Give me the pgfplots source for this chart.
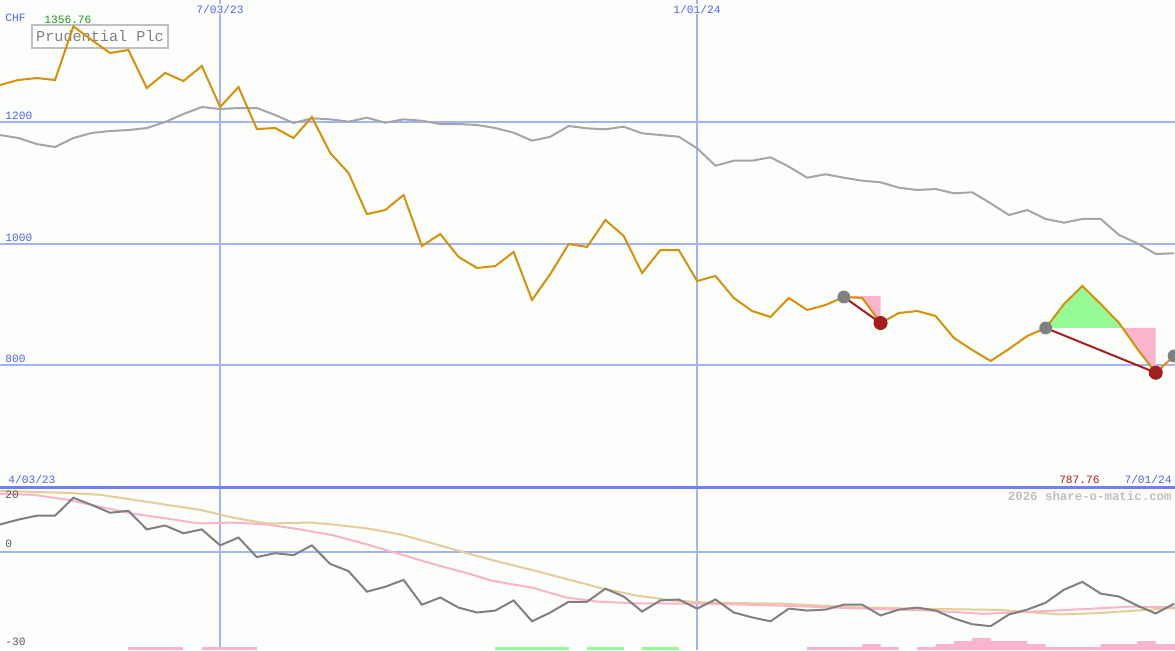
\documentclass[border=0pt]{standalone}
\usepackage{pgfplots}
\pgfplotsset{compat=1.18}
\usepackage{fontspec}
\setmainfont{Liberation Mono}
\definecolor{bg}{RGB}{252,254,252}
\definecolor{priceor}{RGB}{212,145,10}
\definecolor{magray}{RGB}{165,165,165}
\definecolor{momgray}{RGB}{128,128,128}
\definecolor{lpink}{RGB}{250,180,200}
\definecolor{ltan}{RGB}{228,205,155}
\definecolor{gfill}{RGB}{150,250,150}
\definecolor{pfill}{RGB}{250,180,205}
\definecolor{gridblue}{RGB}{165,180,240}
\definecolor{sepblue}{RGB}{112,128,240}
\definecolor{txtblue}{RGB}{80,96,245}
\definecolor{dred}{RGB}{165,30,30}
\definecolor{dotgray}{RGB}{128,128,128}
\definecolor{pgreen}{RGB}{30,150,30}
\newcommand{\sm}{\fontsize{5.6}{6}\selectfont}
\pgfplotsset{panel/.style={scale only axis, width=587.5pt, xmin=-12, xmax=52.05,
  axis line style={draw=none}, tick style={draw=none},
  xtick={0,26}, xticklabels={,,}, yticklabels={,,,,},
  xmajorgrids, ymajorgrids, grid style={gridblue, line width=1pt}, clip=true}}
\begin{document}
\begin{tikzpicture}
\fill[bg] (0pt,0pt) rectangle (587.5pt,325pt);
\node[anchor=center, draw=black!25, line width=1pt, inner sep=0pt, minimum width=68pt, minimum height=11.5pt, text=black!50, font=\fontsize{7.6}{8}\selectfont] at (50pt,306.75pt) {Prudential Plc};
% ---------------- lower panel ----------------
\begin{axis}[panel, name=lower, at={(0pt,0pt)}, anchor=south west,
  height=81.5pt, ymin=-30, ymax=20, ytick={0}]
\addplot[fill=pfill, draw=none] coordinates {(-5,-30)(-5,-29.1)(-2,-29.1)(-2,-30)} -- cycle;
\addplot[fill=pfill, draw=none] coordinates {(-1,-30)(-1,-29.1)(2,-29.1)(2,-30)} -- cycle;
\addplot[fill=gfill, draw=none] coordinates {(15,-30)(15,-29.1)(19,-29.1)(19,-30)} -- cycle;
\addplot[fill=gfill, draw=none] coordinates {(20,-30)(20,-29.1)(22,-29.1)(22,-30)} -- cycle;
\addplot[fill=gfill, draw=none] coordinates {(23,-30)(23,-29.1)(25,-29.1)(25,-30)} -- cycle;
\addplot[fill=pfill, draw=none] coordinates {(32,-30)(32,-29.1)(35,-29.1)(35,-28.2)(36,-28.2)(36,-29.1)(37,-29.1)(37,-30)} -- cycle;
\addplot[fill=pfill, draw=none] coordinates {(38,-30)(38,-29.1)(39,-29.1)(39,-28.2)(40,-28.2)(40,-27.3)(41,-27.3)(41,-26.3)(42,-26.3)(42,-27.3)(44,-27.3)(44,-28.2)(45,-28.2)(45,-29.1)(48,-29.1)(48,-28.2)(50,-28.2)(50,-27.3)(51,-27.3)(51,-28.2)(52.2,-28.2)(52.2,-30)} -- cycle;
% tan line
\addplot[ltan, line width=1pt] coordinates {
(-12,18.8)(-8.32,18.2)(-6.53,17.6)(-4.73,16.1)(-2.88,14.5)(-1.09,13.0)(0.71,10.6)(2.56,8.8)(4.9,9.1)(6.15,8.5)(8.0,7.3)(9.79,5.5)(11.59,2.7)(13.44,-0.3)(15.23,-3.0)(17.03,-5.5)(18.88,-8.2)(20.67,-10.9)(22.69,-13.3)(24.65,-14.8)(26.66,-15.5)(30.63,-15.8)(34.66,-16.9)(38.63,-17.4)(42.44,-17.7)(44.07,-18.4)(45.81,-19.1)(47.88,-18.7)(49.89,-17.9)(52.1,-17.1)};
% pink line
\addplot[lpink, line width=1pt] coordinates {
(-12,17.9)(-10.17,17.6)(-8.32,16.1)(-6.53,13.9)(-4.73,11.8)(-2.88,10.3)(-1.09,8.8)(0.71,9.1)(2.56,8.5)(4.35,7.0)(6.15,5.2)(8.0,2.4)(9.79,-0.6)(11.59,-3.6)(13.44,-6.4)(14.85,-8.8)(17.03,-10.9)(18.88,-13.9)(20.67,-15.2)(22.69,-15.7)(26.66,-15.8)(30.63,-16.4)(34.66,-17.2)(38.63,-17.9)(41.62,-18.9)(43.63,-18.4)(46.63,-17.6)(49.62,-16.7)(52.1,-16.9)};
% momentum line
\addplot[momgray, line width=1pt] coordinates {
(-12,8.5)(-11,10.0)(-10,11.2)(-9,11.2)(-8,16.7)(-7,14.5)(-6,12.1)(-5,12.7)(-4,7.0)(-3,8.2)(-2,5.8)(-1,7.0)(0,2.1)(1,4.5)(2,-1.5)(3,-0.3)(4,-0.9)(5,2.1)(6,-3.6)(7,-5.8)(8,-12.1)(9,-10.6)(10,-8.5)(11,-16.1)(12,-13.9)(13,-17.0)(14,-18.5)(15,-17.9)(16,-14.8)(17,-21.2)(18,-18.5)(19,-15.2)(20,-15.2)(21,-11.2)(22,-13.6)(23,-18.2)(24,-14.8)(25,-14.5)(26,-17.3)(27,-14.5)(28,-18.5)(29,-20.0)(30,-21.2)(31,-17.3)(32,-17.9)(33,-17.6)(34,-16.1)(35,-16.1)(36,-19.4)(37,-17.6)(38,-17.0)(39,-17.9)(40,-20.3)(41,-22.1)(42,-22.7)(43,-19.1)(44,-17.6)(45,-15.5)(46,-11.5)(47,-9.1)(48,-12.7)(49,-13.6)(50,-16.4)(51,-18.8)(52,-15.8)};
\end{axis}
% ---------------- upper panel ----------------
\begin{axis}[panel, name=upper, at={(0pt,81.5pt)}, anchor=south west,
  height=243.5pt, ymin=600, ymax=1400, ytick={800,1000,1200}]
\addplot[fill=pfill, draw=none] coordinates {(34,913.7)(36,913.7)(36,869.4)(35,910.5)} -- cycle;
\addplot[fill=gfill, draw=none] coordinates {(45,861.2)(46,900.6)(47,930.2)(48,900.6)(49,869.4)(49.19,861.2)} -- cycle;
\addplot[fill=pfill, draw=none] coordinates {(49.19,861.2)(51,861.2)(51,787.76)(50,826.7)} -- cycle;
% moving average
\addplot[magray, line width=1pt] coordinates {
(-12,1178.2)(-11,1173.3)(-10,1163.4)(-9,1158.5)(-8,1173.3)(-7,1181.5)(-6,1184.8)(-5,1186.4)(-4,1189.7)(-3,1199.6)(-2,1212.7)(-1,1224.2)(0,1220.9)(1,1222.6)(2,1222.6)(3,1211.1)(4,1197.9)(5,1205.7)(6,1204.0)(7,1200.1)(8,1206.7)(9,1198.4)(10,1204.0)(11,1201.7)(12,1196.3)(13,1196.3)(14,1194.7)(15,1189.7)(16,1182.0)(17,1168.9)(18,1175.4)(19,1193.0)(20,1189.2)(21,1187.6)(22,1191.9)(23,1181.0)(24,1178.2)(25,1175.4)(26,1156.4)(27,1127.8)(28,1136.0)(29,1136.0)(30,1141.6)(31,1126.2)(32,1108.1)(33,1113.7)(34,1108.1)(35,1103.2)(36,1100.5)(37,1091.7)(38,1087.9)(39,1089.5)(40,1082.5)(41,1084.1)(42,1066.0)(43,1046.8)(44,1055.0)(45,1040.3)(46,1034.2)(47,1040.3)(48,1040.3)(49,1013.9)(50,1000.3)(51,982.8)(52,983.9)};
% price
\addplot[priceor, line width=1pt] coordinates {
(-12,1260.4)(-11,1268.6)(-10,1271.9)(-9,1268.6)(-8,1356.76)(-7,1334.3)(-6,1312.9)(-5,1317.9)(-4,1255.4)(-3,1280.1)(-2,1266.9)(-1,1291.6)(0,1224.2)(1,1257.1)(2,1188.1)(3,1189.7)(4,1173.3)(5,1207.8)(6,1148.7)(7,1115.8)(8,1048.3)(9,1055.0)(10,1079.7)(11,995.9)(12,1015.6)(13,977.8)(14,959.8)(15,963.0)(16,986.0)(17,907.2)(18,949.9)(19,999.2)(20,994.3)(21,1038.6)(22,1012.3)(23,951.5)(24,989.3)(25,989.3)(26,938.4)(27,946.6)(28,910.5)(29,889.1)(30,879.3)(31,910.5)(32,890.8)(33,899.0)(34,912.1)(35,910.5)(36,869.4)(37,885.8)(38,889.1)(39,880.9)(40,844.8)(41,825.1)(42,807.0)(43,826.7)(44,848.1)(45,861.2)(46,900.6)(47,930.2)(48,900.6)(49,869.4)(50,826.7)(51,787.76)(52,815.2)};
% trade lines
\addplot[dred, line width=1pt] coordinates {(34,912.1)(36,869.4)};
\addplot[dred, line width=1pt] coordinates {(45,861.2)(51,787.76)};
\addplot[only marks, mark=*, mark size=3pt, dotgray, mark options={draw=dotgray, fill=dotgray}] coordinates {(34,912.1)(45,861.2)(52,815.2)};
\addplot[only marks, mark=*, mark size=3.3pt, dred, mark options={draw=dred, fill=dred}] coordinates {(36,869.4)(51,787.76)};
\end{axis}
% separator
\draw[sepblue, line width=1.5pt] (0pt,81.5pt) -- (587.5pt,81.5pt);
% labels
\node[anchor=west, inner sep=0pt, text=txtblue, font=\sm] at (2.5pt,316pt) {CHF};
\node[anchor=west, inner sep=0pt, text=pgreen, font=\sm] at (22pt,315pt) {1356.76};
\node[anchor=center, inner sep=0.5pt, fill=bg, text=txtblue, font=\sm] at (110pt,320.5pt) {7/03/23};
\node[anchor=center, inner sep=0.5pt, fill=bg, text=txtblue, font=\sm] at (348.5pt,320.5pt) {1/01/24};
\node[anchor=south west, inner sep=0pt, text=txtblue, font=\sm] at (2.5pt,265.2pt) {1200};
\node[anchor=south west, inner sep=0pt, text=txtblue, font=\sm] at (2.5pt,204.2pt) {1000};
\node[anchor=south west, inner sep=0pt, text=txtblue, font=\sm] at (2.5pt,143.7pt) {800};
\node[anchor=south west, inner sep=0pt, text=txtblue, font=\sm] at (4pt,83pt) {4/03/23};
\node[anchor=south east, inner sep=0pt, text=dred, font=\sm] at (550pt,83pt) {787.76};
\node[anchor=south east, inner sep=0pt, text=txtblue, font=\sm] at (586pt,83pt) {7/01/24};
\node[anchor=east, inner sep=0pt, text=black!25, font=\fontsize{6.2}{7}\selectfont\bfseries] at (586pt,77pt) {2026 share-o-matic.com};
\node[anchor=north west, inner sep=0pt, text=black!65, font=\sm] at (2.5pt,79.5pt) {20};
\node[anchor=south west, inner sep=0pt, text=black!65, font=\sm] at (2.5pt,51pt) {0};
\node[anchor=south west, inner sep=0pt, text=black!65, font=\sm] at (2.5pt,2pt) {-30};
\pgfresetboundingbox
\path[use as bounding box] (0pt,0pt) rectangle (587.5pt,325pt);
\end{tikzpicture}
\end{document}
